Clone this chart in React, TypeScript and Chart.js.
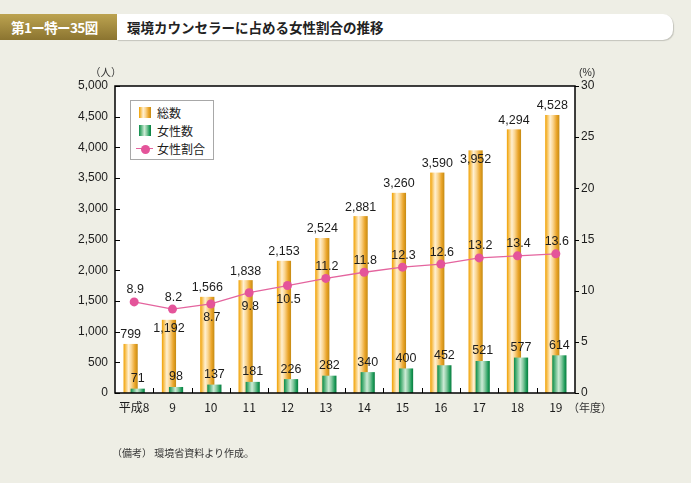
import React, { useEffect, useRef } from 'react';
import { Chart, registerables } from 'chart.js';

Chart.register(...registerables);

// ---- data ----
const categories = ['平成8', '9', '10', '11', '12', '13', '14', '15', '16', '17', '18', '19'];
const totalCounselors = [799, 1192, 1566, 1838, 2153, 2524, 2881, 3260, 3590, 3952, 4294, 4528];
const femaleCounselors = [71, 98, 137, 181, 226, 282, 340, 400, 452, 521, 577, 614];
const femaleRatio = [8.9, 8.2, 8.7, 9.8, 10.5, 11.2, 11.8, 12.3, 12.6, 13.2, 13.4, 13.6];
const leftTicks = [0, 500, 1000, 1500, 2000, 2500, 3000, 3500, 4000, 4500, 5000];
const rightTicks = [0, 5, 10, 15, 20, 25, 30];

// ---- label placement styles ----
const ratioLabelsBelow = [2, 3, 4];
const totalLabelsLowered = [1, 9];

const NUM_FONT = '"Liberation Sans", Arial, Helvetica, sans-serif';
const JP_FONT = '"Noto Sans CJK JP", "Liberation Sans", sans-serif';
const TEXT = '#1c1c1c';

const orangeStops: [number, string][] = [
  [0, '#f0a000'], [0.12, '#f6bc48'], [0.35, '#fff0d2'], [0.55, '#fad590'], [0.8, '#eaa52a'], [1, '#c58a12'],
];
const greenStops: [number, string][] = [
  [0, '#0b8a49'], [0.15, '#4aae74'], [0.45, '#cdebd6'], [0.65, '#86c9a0'], [0.88, '#1c9a58'], [1, '#0a7a3e'],
];

function cssGrad(stops: [number, string][]) {
  return 'linear-gradient(to right, ' + stops.map(([p, c]) => `${c} ${p * 100}%`).join(', ') + ')';
}

const customDraw = {
  id: 'customDraw',
  beforeDraw(chart: any) {
    const { ctx, chartArea: a } = chart;
    ctx.save();
    ctx.fillStyle = '#ffffff';
    ctx.fillRect(a.left, a.top, a.right - a.left, a.bottom - a.top);
    ctx.restore();
  },
  beforeDatasetDraw(chart: any, args: any) {
    if (chart.data.datasets[args.index].type === 'bar') return false;
    return true;
  },
  beforeDatasetsDraw(chart: any) {
    const { ctx } = chart;
    [0, 1].forEach((di) => {
      const stops = di === 0 ? orangeStops : greenStops;
      const meta = chart.getDatasetMeta(di);
      meta.data.forEach((el: any) => {
        const left = el.x - el.width / 2;
        const right = el.x + el.width / 2;
        const g = ctx.createLinearGradient(left, 0, right, 0);
        stops.forEach(([p, c]) => g.addColorStop(p, c));
        ctx.save();
        ctx.fillStyle = g;
        ctx.fillRect(left, el.y, el.width, el.base - el.y);
        ctx.restore();
      });
    });
  },
  afterDatasetsDraw(chart: any) {
    const { ctx, chartArea: a, scales } = chart;
    ctx.save();
    // frame
    ctx.strokeStyle = '#000';
    ctx.lineWidth = 1.5;
    ctx.strokeRect(a.left, a.top, a.right - a.left, a.bottom - a.top);
    ctx.lineWidth = 1;
    ctx.beginPath();
    leftTicks.forEach((v) => {
      const y = Math.round(scales.y.getPixelForValue(v)) + 0.5;
      ctx.moveTo(a.left, y);
      ctx.lineTo(a.left + 5, y);
    });
    rightTicks.forEach((v) => {
      const y = Math.round(scales.y1.getPixelForValue(v)) + 0.5;
      ctx.moveTo(a.right, y);
      ctx.lineTo(a.right + 4, y);
    });
    const n = categories.length;
    for (let i = 1; i < n; i++) {
      const x = Math.round((scales.x.getPixelForValue(i - 1) + scales.x.getPixelForValue(i)) / 2) + 0.5;
      ctx.moveTo(x, a.bottom);
      ctx.lineTo(x, a.bottom - 5);
    }
    ctx.stroke();

    // labels
    ctx.fillStyle = TEXT;
    ctx.textAlign = 'center';
    ctx.textBaseline = 'middle';
    ctx.font = `12.5px ${NUM_FONT}`;
    const m0 = chart.getDatasetMeta(0);
    m0.data.forEach((el: any, i: number) => {
      const dy = totalLabelsLowered.includes(i) ? 9 : -9;
      ctx.fillText(totalCounselors[i].toLocaleString('en-US'), el.x, el.y + dy);
    });
    const m1 = chart.getDatasetMeta(1);
    m1.data.forEach((el: any, i: number) => {
      ctx.fillText(femaleCounselors[i].toLocaleString('en-US'), el.x, el.y - 10);
    });
    const m2 = chart.getDatasetMeta(2);
    m2.data.forEach((el: any, i: number) => {
      const dy = ratioLabelsBelow.includes(i) ? 14 : -12;
      ctx.fillText(femaleRatio[i].toFixed(1), el.x + 1, el.y + dy);
    });
    ctx.restore();
  },
};

export default function App() {
  const ref = useRef<HTMLCanvasElement | null>(null);

  useEffect(() => {
    if (!ref.current) return;
    const chart = new Chart(ref.current, {
      type: 'bar',
      data: {
        labels: categories,
        datasets: [
          {
            type: 'bar',
            label: '総数',
            data: totalCounselors,
            yAxisID: 'y',
            backgroundColor: '#f0a030',
            categoryPercentage: 0.37,
            barPercentage: 2,
          } as any,
          {
            type: 'bar',
            label: '女性数',
            data: femaleCounselors,
            yAxisID: 'y',
            backgroundColor: '#1c9a58',
            categoryPercentage: 0.37,
            barPercentage: 2,
          } as any,
          {
            type: 'line',
            label: '女性割合',
            data: femaleRatio,
            yAxisID: 'y1',
            borderColor: '#e4649e',
            borderWidth: 1.3,
            pointRadius: 4.5,
            pointBackgroundColor: '#e4549a',
            pointBorderWidth: 0,
            tension: 0,
          } as any,
        ],
      },
      options: {
        responsive: false,
        maintainAspectRatio: false,
        animation: false,
        layout: { padding: { top: 86, left: 0, right: 0, bottom: 0 } },
        plugins: { legend: { display: false }, tooltip: { enabled: false } },
        scales: {
          x: {
            offset: true,
            grid: { display: false, drawTicks: false },
            border: { display: false },
            ticks: {
              color: TEXT,
              font: { size: 12, family: JP_FONT },
              padding: 7,
              maxRotation: 0,
              autoSkip: false,
            },
            afterFit: (s: any) => { s.height = 90; },
          },
          y: {
            position: 'left',
            min: 0,
            max: 5000,
            grid: { display: false, drawTicks: false },
            border: { display: false },
            afterBuildTicks: (s: any) => { s.ticks = leftTicks.map((v) => ({ value: v })); },
            ticks: {
              color: TEXT,
              font: { size: 12, family: NUM_FONT },
              padding: 7,
              callback: (v: any) => Number(v).toLocaleString('en-US'),
            },
            afterFit: (s: any) => { s.width = 115; },
          },
          y1: {
            position: 'right',
            min: 0,
            max: 30,
            grid: { display: false, drawTicks: false },
            border: { display: false },
            afterBuildTicks: (s: any) => { s.ticks = rightTicks.map((v) => ({ value: v })); },
            ticks: {
              color: TEXT,
              font: { size: 12, family: NUM_FONT },
              padding: 6,
            },
            afterFit: (s: any) => { s.width = 116; },
          },
        },
      } as any,
      plugins: [customDraw as any],
    });
    return () => chart.destroy();
  }, []);

  const abs = (s: React.CSSProperties): React.CSSProperties => ({ position: 'absolute', ...s });

  return (
    <div style={abs({ left: 0, top: 0, width: 691, height: 483, background: '#eeeee5', overflow: 'hidden', fontFamily: JP_FONT, color: TEXT })}>
      {/* title bar */}
      <div style={abs({ left: 117, top: 14, width: 556, height: 26, background: '#fff', borderRadius: '0 10px 10px 0', boxShadow: '1px 1px 1px #c4c4bc' })} />
      <div style={abs({ left: 0, top: 14, width: 117, height: 26, background: 'linear-gradient(#bca350, #8b7430)' })} />
      <div style={abs({ left: 11, top: 14, height: 26, lineHeight: '26px', fontSize: 13.5, fontWeight: 700, color: '#fff', whiteSpace: 'nowrap', letterSpacing: -0.6 })}>第1ー特ー35図</div>
      <div style={abs({ left: 127, top: 14, height: 26, lineHeight: '26px', fontSize: 13.5, fontWeight: 700, color: '#222', whiteSpace: 'nowrap' })}>環境カウンセラーに占める女性割合の推移</div>

      <canvas ref={ref} width={691} height={483} style={abs({ left: 0, top: 0, width: 691, height: 483 })} />

      {/* unit labels */}
      <div style={abs({ left: 90, top: 64, fontSize: 10.5, color: '#333', whiteSpace: 'nowrap' })}>（人）</div>
      <div style={abs({ left: 579, top: 66, fontSize: 10.5, color: '#333', whiteSpace: 'nowrap', fontFamily: NUM_FONT })}>(%)</div>
      <div style={abs({ left: 568, top: 399, fontSize: 11, color: '#333', whiteSpace: 'nowrap' })}>（年度）</div>

      {/* legend */}
      <div style={abs({ left: 130, top: 100, width: 82, height: 58, background: '#fff', border: '1px solid #a8a8a8' })} />
      <div style={abs({ left: 139, top: 107, width: 12, height: 11, background: cssGrad(orangeStops) })} />
      <div style={abs({ left: 157, top: 104, fontSize: 12, lineHeight: '18px', whiteSpace: 'nowrap' })}>総数</div>
      <div style={abs({ left: 139, top: 125, width: 12, height: 11, background: cssGrad(greenStops) })} />
      <div style={abs({ left: 157, top: 122, fontSize: 12, lineHeight: '18px', whiteSpace: 'nowrap' })}>女性数</div>
      <div style={abs({ left: 136, top: 148, width: 17, height: 1.3, background: '#e4649e' })} />
      <div style={abs({ left: 141, top: 144.5, width: 9, height: 9, borderRadius: '50%', background: '#e4549a' })} />
      <div style={abs({ left: 157, top: 140, fontSize: 12, lineHeight: '18px', whiteSpace: 'nowrap' })}>女性割合</div>

      {/* note */}
      <div style={abs({ left: 112, top: 445, fontSize: 10, color: '#333', whiteSpace: 'nowrap' })}>（備考） 環境省資料より作成。</div>
    </div>
  );
}
